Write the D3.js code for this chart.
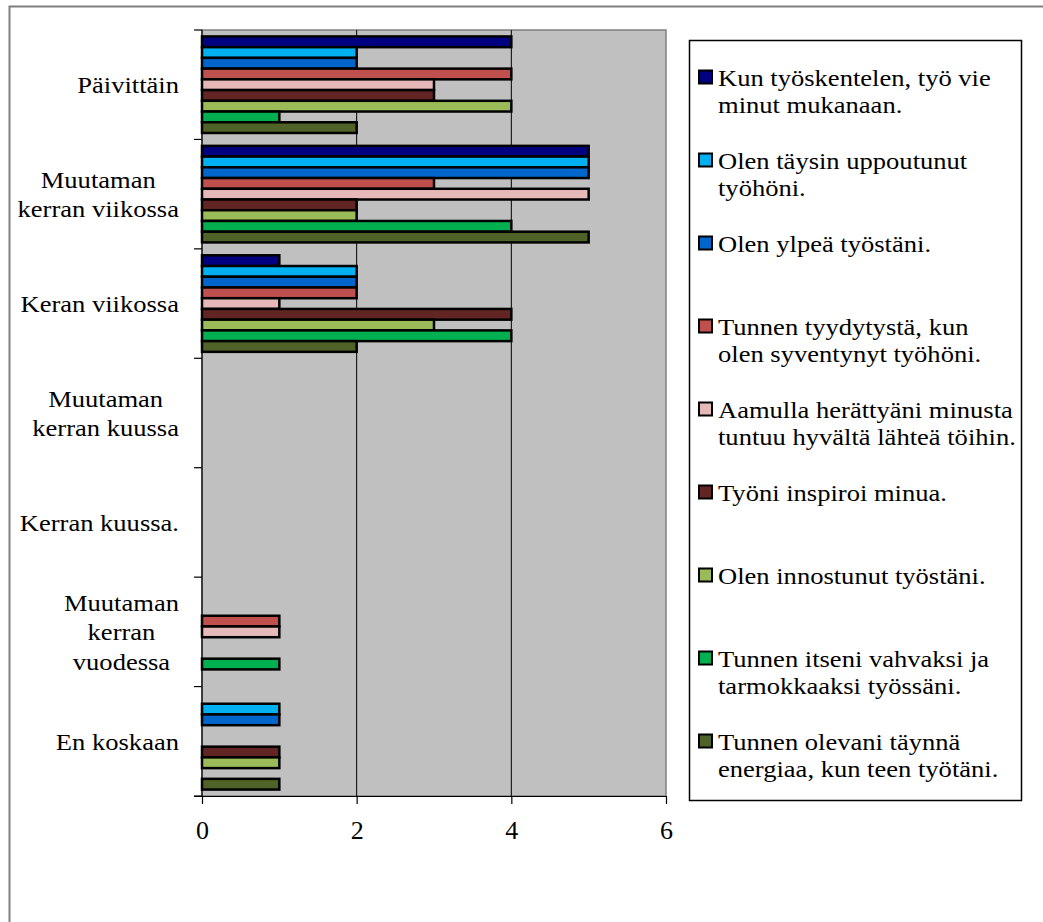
<!DOCTYPE html>
<html><head><meta charset="utf-8">
<script src="https://cdn.jsdelivr.net/npm/d3@7"></script>
<style>html,body{margin:0;padding:0;background:#fff;}svg{display:block;}text{font-family:"Liberation Serif","Times New Roman",serif;}</style>
</head><body>
<svg id="chart" width="1043" height="922"></svg>
<script>
const categories = ["Päivittäin", "Muutaman\nkerran viikossa", "Keran viikossa", "Muutaman\nkerran kuussa", "Kerran kuussa.", "Muutaman\nkerran\nvuodessa", "En koskaan"];
const seriesNames = [
  "Kun työskentelen, työ vie\nminut mukanaan.",
  "Olen täysin uppoutunut\ntyöhöni.",
  "Olen ylpeä työstäni.",
  "Tunnen tyydytystä, kun\nolen syventynyt työhöni.",
  "Aamulla herättyäni minusta\ntuntuu hyvältä lähteä töihin.",
  "Työni inspiroi minua.",
  "Olen innostunut työstäni.",
  "Tunnen itseni vahvaksi ja\ntarmokkaaksi työssäni.",
  "Tunnen olevani täynnä\nenergiaa, kun teen työtäni."
];
const seriesColors = ["#000080", "#00B0F0", "#0066CC", "#C0504D", "#E6B9B8", "#632523", "#9BBB59", "#00B050", "#4F6228"];
const s0 = [4, 5, 1, 0, 0, 0, 0];
const s1 = [2, 5, 2, 0, 0, 0, 1];
const s2 = [2, 5, 2, 0, 0, 0, 1];
const s3 = [4, 3, 2, 0, 0, 1, 0];
const s4 = [3, 5, 1, 0, 0, 1, 0];
const s5 = [3, 2, 4, 0, 0, 0, 1];
const s6 = [4, 2, 3, 0, 0, 0, 1];
const s7 = [1, 4, 4, 0, 0, 1, 0];
const s8 = [2, 5, 2, 0, 0, 0, 1];
const seriesValues = [s0, s1, s2, s3, s4, s5, s6, s7, s8];
const xTicks = [0, 2, 4, 6];

const svg = d3.select("#chart");
const L = 202, R = 666, T = 30, B = 796;
const FS = 23.5, SX = 1.13;

// outer border
svg.append("rect").attr("x", 9.5).attr("y", 6.5).attr("width", 1200).attr("height", 1200)
  .attr("fill", "none").attr("stroke", "#808080").attr("stroke-width", 2);

const x = d3.scaleLinear().domain([0, 6]).range([L, R]);
const y = d3.scaleBand().domain(categories).range([T, B]).padding(0);
const yi = d3.scaleBand().domain(d3.range(seriesNames.length)).range([0, y.bandwidth()]).paddingInner(0).paddingOuter(0.6);

// plot area
svg.append("rect").attr("x", L).attr("y", T).attr("width", R - L).attr("height", B - T)
  .attr("fill", "#C0C0C0").attr("stroke", "#808080").attr("stroke-width", 1.5);

// gridlines
svg.append("g").selectAll("line").data(xTicks.filter(d => d > 0 && d < 6)).join("line")
  .attr("x1", d => x(d)).attr("x2", d => x(d)).attr("y1", T).attr("y2", B)
  .attr("stroke", "#000").attr("stroke-width", 1);

// bars
const flat = [];
seriesValues.forEach((vals, si) => vals.forEach((v, ci) => { if (v > 0) flat.push({ si, ci, v }); }));
svg.append("g").selectAll("rect").data(flat).join("rect")
  .attr("x", x(0))
  .attr("y", d => y(categories[d.ci]) + yi(d.si))
  .attr("width", d => x(d.v) - x(0))
  .attr("height", yi.bandwidth())
  .attr("fill", d => seriesColors[d.si])
  .attr("stroke", "#000").attr("stroke-width", 2.5);

// axes lines
svg.append("line").attr("x1", L).attr("x2", L).attr("y1", T).attr("y2", B).attr("stroke", "#000").attr("stroke-width", 1.2);
const bounds = categories.map(c => y(c)).concat([B]);
svg.append("g").selectAll("line").data(bounds).join("line")
  .attr("x1", L - 8).attr("x2", L).attr("y1", d => d).attr("y2", d => d)
  .attr("stroke", "#000").attr("stroke-width", 1.2);

const xAxis = svg.append("g").attr("transform", `translate(0,${B})`)
  .call(d3.axisBottom(x).tickValues(xTicks).tickSize(8).tickSizeOuter(0).tickFormat(d3.format("d")));
xAxis.select(".domain").attr("stroke", "#000").attr("stroke-width", 1.2).attr("d", `M${L - 8},0.5H${R}`);
xAxis.selectAll(".tick line").attr("stroke", "#000").attr("stroke-width", 1.2);
xAxis.selectAll(".tick text").style("font-family", "'Liberation Serif', serif").attr("font-size", 26).attr("fill", "#000").attr("dy", null).attr("y", 43);

// category labels
const catG = svg.append("g").attr("font-size", FS).attr("fill", "#000");
const lineH = 29.5;
categories.forEach(c => {
  const lines = c.split("\n");
  const cy = y(c) + y.bandwidth() / 2;
  const g = catG.append("g");
  const texts = lines.map((ln, i) => g.append("text").text(ln).attr("text-anchor", "middle"));
  const maxW = d3.max(texts, t => t.node().getComputedTextLength()) * SX;
  texts.forEach((t, i) => t.attr("transform",
    `translate(${179 - maxW / 2},${cy + 8.5 + (i - (lines.length - 1) / 2) * lineH}) scale(${SX},1)`));
});

// legend
svg.append("rect").attr("x", 689.5).attr("y", 40.5).attr("width", 332).attr("height", 760)
  .attr("fill", "#fff").attr("stroke", "#000").attr("stroke-width", 1.5);
const legG = svg.append("g").attr("font-size", FS).attr("fill", "#000");
seriesNames.forEach((n, i) => {
  const cy = 77 + 83 * i;
  legG.append("rect").attr("x", 699).attr("y", cy - 6.5).attr("width", 13).attr("height", 13)
    .attr("fill", seriesColors[i]).attr("stroke", "#000").attr("stroke-width", 2);
  n.split("\n").forEach((ln, j) => {
    legG.append("text").attr("transform", `translate(718,${cy + 8.5 + j * 27}) scale(${SX},1)`).text(ln);
  });
});
</script>
</body></html>
